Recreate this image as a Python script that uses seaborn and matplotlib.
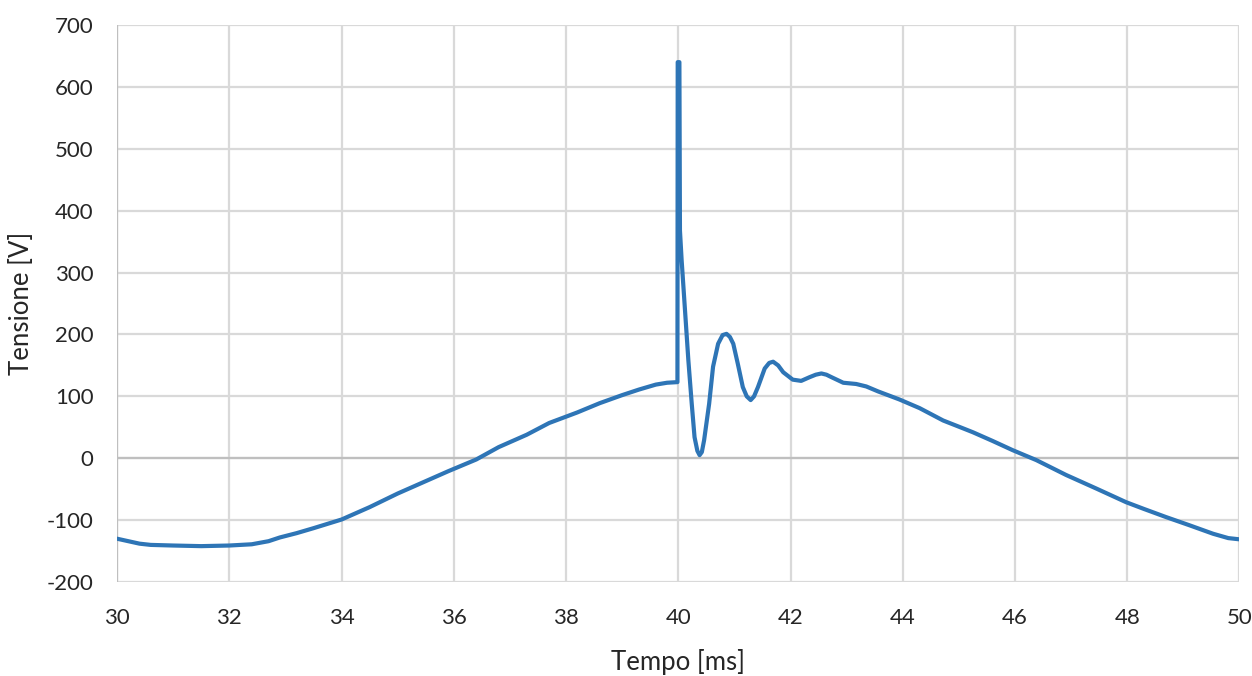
import matplotlib
matplotlib.use("Agg")
import matplotlib.pyplot as plt
import seaborn as sns
import pandas as pd

# Time [ms] and voltage [V]
tempo = [30.0, 30.2, 30.4, 30.6, 31.0, 31.5, 32.0, 32.4, 32.7, 32.9, 33.2, 33.5,
         34.0, 34.5, 35.0, 35.5, 35.9, 36.4, 36.8, 37.3, 37.7, 38.2, 38.6, 39.0,
         39.3, 39.6, 39.8, 39.985,
         39.99, 40.02, 40.03, 40.06, 40.12, 40.18, 40.24, 40.29, 40.34, 40.38,
         40.42, 40.46, 40.55, 40.62, 40.71, 40.79, 40.86, 40.92, 40.98, 41.06,
         41.15, 41.22, 41.29, 41.35, 41.42, 41.54, 41.62, 41.69, 41.78, 41.87,
         42.04, 42.19, 42.34, 42.45, 42.55, 42.64, 42.73, 42.94, 43.17, 43.35,
         43.56, 43.94, 44.3, 44.72, 45.0, 45.25, 45.6, 45.96, 46.38, 46.91,
         47.45, 47.98, 48.3, 48.69, 49.1, 49.53, 49.8, 50.0]
tensione = [-130, -134, -138, -140, -141, -142, -141, -139, -134, -128, -121, -113,
            -99, -79, -57, -37, -21, -2, 18, 38, 57, 74, 89, 102,
            111, 119, 122, 123,
            640, 640, 368, 320, 239, 158, 88, 34, 12, 5,
            10, 29, 88, 148, 185, 199, 201, 196, 185, 153,
            115, 100, 94, 100, 115, 145, 154, 156, 150, 139,
            127, 125, 131, 135, 137, 135, 131, 122, 120, 116,
            108, 95, 81, 61, 51, 42, 28, 13, -3, -27,
            -49, -71, -82, -95, -108, -122, -129, -131]

xticks = [30, 32, 34, 36, 38, 40, 42, 44, 46, 48, 50]
yticks = [-200, -100, 0, 100, 200, 300, 400, 500, 600, 700]

df = pd.DataFrame({"Tempo [ms]": tempo, "Tensione [V]": tensione})

sns.set_theme(style="white")
plt.rcParams["font.family"] = ["Lato", "DejaVu Sans"]
plt.rcParams["axes.unicode_minus"] = False

fig = plt.figure(figsize=(12.52, 6.76), dpi=100)
ax = fig.add_axes([0.0935, 0.139, 0.8965, 0.824])

for xv in xticks:
    ax.axvline(xv, color="#D9D9D9", lw=1.6, zorder=0)
for yv in yticks:
    ax.axhline(yv, color="#D9D9D9", lw=1.6, zorder=0)
ax.axhline(0, color="#BFBFBF", lw=1.6, zorder=0.5)
ax.axvline(30, color="#BFBFBF", lw=1.6, zorder=0.5)

sns.lineplot(data=df, x="Tempo [ms]", y="Tensione [V]", sort=False,
             estimator=None, color="#2E75B6", lw=3.0, ax=ax,
             solid_joinstyle="round", solid_capstyle="round")

ax.set_xlim(30, 50)
ax.set_ylim(-200, 700)
ax.set_xticks(xticks)
ax.set_yticks(yticks)
ax.tick_params(axis="both", length=0, labelsize=16, colors="#262626")
ax.tick_params(axis="x", pad=19)
ax.tick_params(axis="y", pad=17)
for s in ax.spines.values():
    s.set_visible(False)

ax.set_xlabel("Tempo [ms]", fontsize=18.5, color="#262626", labelpad=15)
ax.set_ylabel("Tensione [V]", fontsize=18.5, color="#262626", labelpad=9)

fig.savefig("out.png", dpi=100)
